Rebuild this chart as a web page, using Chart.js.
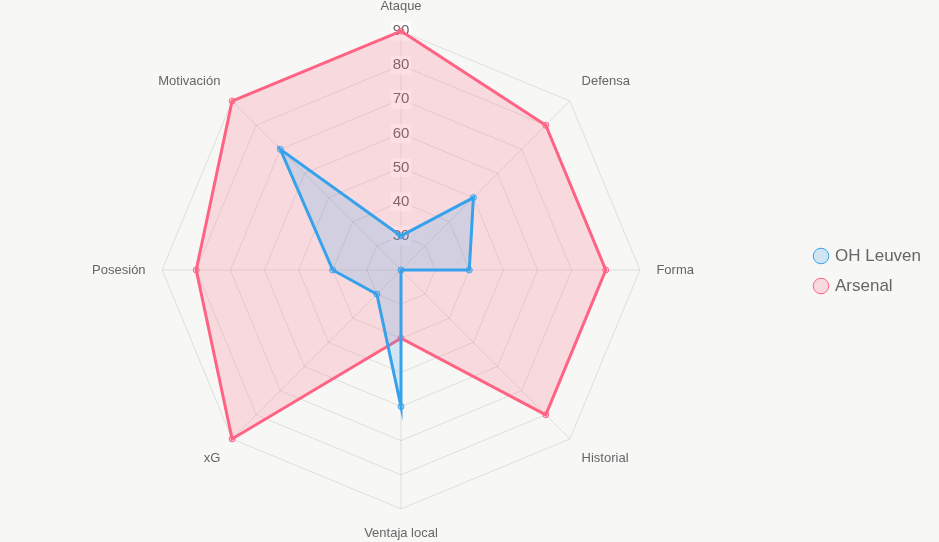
<!doctype html>
<html lang="es">
<head>
  <meta charset="utf-8">
  <title>OH Leuven vs Arsenal</title>
  <style>
    html, body { margin: 0; padding: 0; background: #f7f7f5; }
    #wrap { width: 939px; height: 542px; position: relative; }
  </style>
</head>
<body>
  <div id="wrap"><canvas id="chart"></canvas></div>

  <script src="https://cdn.jsdelivr.net/npm/chart.js@4.4.1/dist/chart.umd.min.js"></script>
  <script>
  const labels = ['Ataque', 'Defensa', 'Forma', 'Historial', 'Ventaja local', 'xG', 'Posesión', 'Motivación'];
  const leuven = [30, 50, 40, 20, 60, 30, 40, 70];
  const arsenal = [90, 80, 80, 80, 40, 90, 80, 90];

  let ctx = document.getElementById('chart').getContext('2d');
  let chart = new Chart(ctx, {
    type: 'radar',
    data: {
      labels: labels,
      datasets: [
        {
          label: 'OH Leuven',
          data: leuven,
          borderColor: 'rgb(54, 162, 235)',
          backgroundColor: 'rgba(54, 162, 235, 0.2)',
          pointBackgroundColor: 'rgba(54, 162, 235, 0.2)',
          pointBorderWidth: 1,
          borderWidth: 3,
          pointRadius: 3
        },
        {
          label: 'Arsenal',
          data: arsenal,
          borderColor: 'rgb(255, 99, 132)',
          backgroundColor: 'rgba(255, 99, 132, 0.2)',
          pointBackgroundColor: 'rgba(255, 99, 132, 0.2)',
          pointBorderWidth: 1,
          borderWidth: 3,
          pointRadius: 3
        }
      ]
    },
    options: {
      responsive: true,
      maintainAspectRatio: false,
      animation: false,
      layout: { padding: { right: 8 } },
      scales: {
        r: {
          min: 20,
          max: 90,
          ticks: { stepSize: 10, font: { size: 15 }, color: '#666' },
          pointLabels: { font: { size: 13 }, color: '#666', padding: 7 },
          grid: { color: 'rgba(0,0,0,0.1)' },
          angleLines: { color: 'rgba(0,0,0,0.1)' }
        }
      },
      plugins: {
        legend: {
          position: 'right',
          labels: { usePointStyle: true, boxWidth: 11, boxHeight: 11, padding: 13, font: { size: 17 }, color: '#666' }
        }
      }
    }
  });
  </script>
</body>
</html>
